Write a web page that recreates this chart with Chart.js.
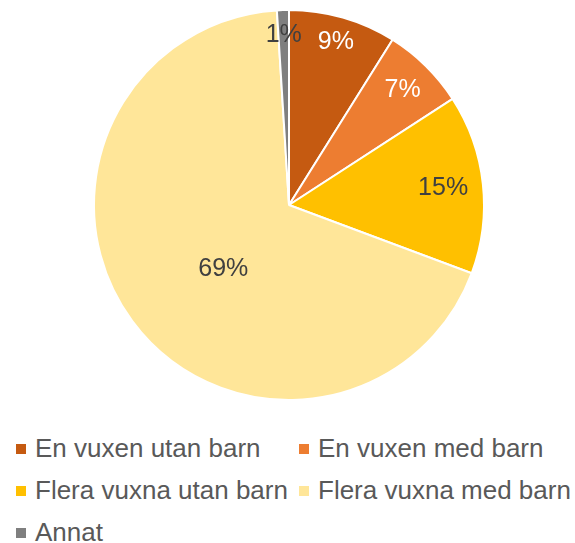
<!DOCTYPE html>
<html>
<head>
<meta charset="utf-8">
<script src="https://cdn.jsdelivr.net/npm/chart.js@4"></script>
<style>
  body { margin: 0; background: #fff; }
  #wrap { position: relative; width: 575px; height: 543px; font-family: 'Liberation Sans', Arial, sans-serif; }
  #pieChart { position: absolute; left: 0; top: 0; }
  #legend { position: absolute; left: 0; top: 427px; width: 575px; }
  .item { position: absolute; height: 42px; line-height: 42px; font-size: 26px; color: #595959; white-space: nowrap; }
  .item span.box { position: absolute; left: 0; top: 17px; width: 10px; height: 10px; }
  .item span.txt { position: absolute; left: 19px; top: 0; }
</style>
</head>
<body>
<div id="wrap">
  <canvas id="pieChart" width="575" height="410"></canvas>
  <div id="legend"></div>
</div>
<script>
// Chart data
var categories = ["En vuxen utan barn", "En vuxen med barn", "Flera vuxna utan barn", "Flera vuxna med barn", "Annat"];
var shares = [9, 7, 15, 69, 1];
var sliceColors = ["#C55A11", "#ED7D31", "#FFC000", "#FFE699", "#7F7F7F"];

// label look (radius fraction, angle shift in degrees, colour)
var labelRadius = [0.87, 0.83, 0.795, 0.47, 0.87];
var labelShift = [0, 0, 0, -7.7, 0];
var labelColors = ["#ffffff", "#ffffff", "#404040", "#404040", "#404040"];

// draws the percentages on the slices
const pieLabels = {
  id: 'pieLabels',
  afterDatasetsDraw(chart) {
    const ctx = chart.ctx;
    const arcs = chart.getDatasetMeta(0).data;
    const values = chart.data.datasets[0].data;
    ctx.save();
    ctx.font = "25px 'Liberation Sans', Arial, sans-serif";
    ctx.textAlign = 'center';
    ctx.textBaseline = 'middle';
    arcs.forEach(function (arc, i) {
      const p = arc.getProps(['x', 'y', 'startAngle', 'endAngle', 'outerRadius']);
      const mid = (p.startAngle + p.endAngle) / 2 + labelShift[i] * Math.PI / 180;
      const r = p.outerRadius * labelRadius[i];
      ctx.fillStyle = labelColors[i];
      ctx.fillText(values[i] + '%', p.x + Math.cos(mid) * r, p.y + Math.sin(mid) * r);
    });
    ctx.restore();
  }
};

var myChart = new Chart(document.getElementById('pieChart'), {
  type: 'pie',
  data: {
    labels: categories,
    datasets: [{
      data: shares,
      backgroundColor: sliceColors,
      borderColor: '#ffffff',
      borderWidth: 2,
    }],
  },
  options: {
    responsive: false,
    animation: false,
    radius: 195,
    layout: { padding: { left: 3 } },
    plugins: {
      legend: { display: false },
      tooltip: { enabled: false },
    },
  },
  plugins: [pieLabels],
});

// legend in two columns, like the original
var legendBox = document.getElementById('legend');
myChart.data.labels.forEach(function (name, i) {
  var item = document.createElement('div');
  item.className = 'item';
  item.style.left = (i % 2 === 0 ? 16 : 299) + 'px';
  item.style.top = (Math.floor(i / 2) * 42) + 'px';
  item.innerHTML = '<span class="box" style="background:' + sliceColors[i] + '"></span><span class="txt">' + name + '</span>';
  legendBox.appendChild(item);
});
</script>
</body>
</html>
